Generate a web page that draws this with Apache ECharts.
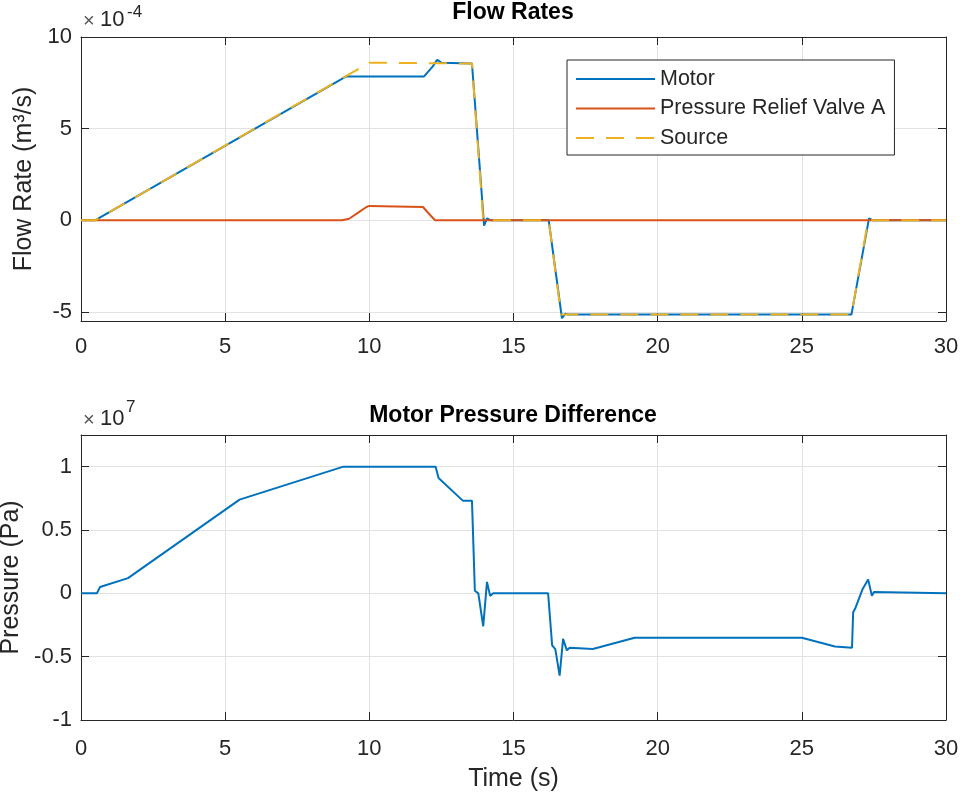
<!DOCTYPE html>
<html><head><meta charset="utf-8">
<script src="https://cdn.jsdelivr.net/npm/echarts@6/dist/echarts.min.js"></script>
<style>html,body{margin:0;padding:0;background:#fff}#c{width:964px;height:798px}</style>
</head><body><div id="c"></div>
<script>
// ---- data ----
const xTicks = [0, 5, 10, 15, 20, 25, 30];
const flowTicks = [-5, 0, 5, 10];            // x 1e-4 m^3/s
const pressureTicks = [-1, -0.5, 0, 0.5, 1]; // x 1e7 Pa
const seriesNames = ['Motor', 'Pressure Relief Valve A', 'Source'];

const motorTime = [0, 0.5, 9.2, 11.9, 12.2, 12.35, 12.5, 13.56, 13.98, 14.08, 14.2, 16.22, 16.68, 16.8, 16.9, 26.72, 27.33, 27.45, 30];
const motorFlow = [0, 0, 7.85, 7.85, 8.4, 8.75, 8.6, 8.55, -0.3, 0.1, 0, 0, -5.35, -5.1, -5.15, -5.15, 0.1, 0, 0];

const reliefTime = [0, 9.05, 9.3, 9.6, 9.9, 10.0, 11.86, 12.1, 12.28, 30];
const reliefFlow = [0, 0, 0.08, 0.4, 0.72, 0.78, 0.72, 0.3, 0, 0];

const sourceTime = [0, 0.5, 10.0, 13.56, 13.95, 16.22, 16.65, 26.72, 27.3, 30];
const sourceFlow = [0, 0, 8.6, 8.55, 0, 0, -5.15, -5.15, 0, 0];

const pressureTime = [0, 0.55, 0.66, 1.63, 5.5, 9.1, 12.3, 12.4, 13.25, 13.56, 13.66, 13.78, 13.95, 14.08, 14.19, 14.3, 16.2, 16.34, 16.45, 16.6, 16.72, 16.85, 16.95, 17.75, 19.2, 25.0, 26.15, 26.74, 26.78, 26.85, 27.1, 27.3, 27.43, 27.5, 30];
const pressureDiff = [0, 0, 0.05, 0.12, 0.74, 1.0, 1.0, 0.91, 0.73, 0.73, 0.02, 0, -0.26, 0.09, -0.02, 0, 0, -0.41, -0.44, -0.65, -0.36, -0.45, -0.43, -0.44, -0.35, -0.35, -0.42, -0.43, -0.15, -0.12, 0.03, 0.11, -0.02, 0.01, 0];

// ---- chart ----
const pairs = (t, v) => t.map((x, i) => [x, v[i]]);
const FONT = '"Liberation Sans", Arial, Helvetica, sans-serif';
const DARK = '#262626';
const GRIDC = '#e2e2e2';

function xAx(grid, pos, labels, margin, name) {
  return {
    type: 'value', gridIndex: grid, min: 0, max: 30, interval: 5, position: pos,
    name: name || '', nameLocation: 'middle', nameGap: 47,
    nameTextStyle: { fontSize: 25, color: DARK, fontFamily: FONT },
    axisLine: { show: true, onZero: false, lineStyle: { color: DARK, width: 1 } },
    axisTick: { show: true, inside: true, length: 8, lineStyle: { color: DARK } },
    axisLabel: { show: labels, fontSize: 22, color: DARK, fontFamily: FONT, margin: margin || 12 },
    splitLine: { show: pos === 'bottom', lineStyle: { color: GRIDC, width: 1 } }
  };
}
function yAx(grid, pos, labels, min, max, ticks, extra, name, gap) {
  return Object.assign({
    type: 'value', gridIndex: grid, min: min, max: max, position: pos,
    name: name || '', nameLocation: 'middle', nameGap: gap || 40, nameRotate: 90,
    nameTextStyle: { fontSize: 25, color: DARK, fontFamily: FONT },
    axisLine: { show: true, onZero: false, lineStyle: { color: DARK, width: 1 } },
    axisTick: { show: true, inside: true, length: 8, customValues: ticks, lineStyle: { color: DARK } },
    axisLabel: { show: labels, customValues: ticks, fontSize: 22, color: DARK, fontFamily: FONT, margin: 9 },
    splitLine: { show: pos === 'left', lineStyle: { color: GRIDC, width: 1 } }
  }, extra);
}

const chart = echarts.init(document.getElementById('c'), null, { renderer: 'canvas' });
chart.setOption({
  animation: false,
  backgroundColor: '#fff',
  grid: [
    { left: 81, top: 37, width: 865, height: 284, containLabel: false, outerBoundsMode: 'none' },
    { left: 81, top: 435, width: 865, height: 285, containLabel: false, outerBoundsMode: 'none' }
  ],
  xAxis: [
    xAx(0, 'bottom', true, 15),
    xAx(0, 'top', false),
    xAx(1, 'bottom', true, 18, 'Time (s)'),
    xAx(1, 'top', false)
  ],
  yAxis: [
    yAx(0, 'left', true, -5.5, 10, flowTicks, { splitNumber: 3 }, 'Flow Rate (m³/s)', 44),
    yAx(0, 'right', false, -5.5, 10, flowTicks, { splitNumber: 3 }),
    yAx(1, 'left', true, -1, 1.25, pressureTicks, { interval: 0.5 }, 'Pressure (Pa)', 56),
    yAx(1, 'right', false, -1, 1.25, pressureTicks, { interval: 0.5 })
  ],
  legend: {
    data: seriesNames, orient: 'vertical', left: 567, top: 60,
    itemWidth: 79, itemHeight: 14, itemGap: 7.5,
    padding: [8, 9, 6, 8],
    borderColor: DARK, borderWidth: 1, backgroundColor: '#fff',
    itemStyle: { opacity: 0 },
    textStyle: { fontSize: 21.5, color: DARK, fontFamily: FONT },
    selectedMode: false
  },
  graphic: [
    { type: 'text', x: 513, y: 1, style: { text: 'Flow Rates', fontSize: 23, fontWeight: 'bold', fontFamily: FONT, fill: '#000', align: 'center', verticalAlign: 'top' } },
    { type: 'text', x: 513, y: 404, style: { text: 'Motor Pressure Difference', fontSize: 23, fontWeight: 'bold', fontFamily: FONT, fill: '#000', align: 'center', verticalAlign: 'top' } },
    { type: 'text', x: 83, y: 11, style: { text: '×', fontSize: 20, fontFamily: FONT, fill: '#555' } },
    { type: 'text', x: 100, y: 9, style: { text: '10', fontSize: 22, fontFamily: FONT, fill: DARK } },
    { type: 'text', x: 127, y: 4, style: { text: '-4', fontSize: 17, fontFamily: FONT, fill: DARK } },
    { type: 'text', x: 83, y: 410, style: { text: '×', fontSize: 20, fontFamily: FONT, fill: '#555' } },
    { type: 'text', x: 100, y: 408, style: { text: '10', fontSize: 22, fontFamily: FONT, fill: DARK } },
    { type: 'text', x: 126, y: 399, style: { text: '7', fontSize: 17, fontFamily: FONT, fill: DARK } }
  ],
  series: [
    { name: seriesNames[0], type: 'line', xAxisIndex: 0, yAxisIndex: 0, symbol: 'none', data: pairs(motorTime, motorFlow),
      lineStyle: { color: '#0072BD', width: 2 }, itemStyle: { color: '#0072BD' }, z: 2 },
    { name: seriesNames[1], type: 'line', xAxisIndex: 0, yAxisIndex: 0, symbol: 'none', data: pairs(reliefTime, reliefFlow),
      lineStyle: { color: '#D95319', width: 2 }, itemStyle: { color: '#D95319' }, z: 3 },
    { name: seriesNames[2], type: 'line', xAxisIndex: 0, yAxisIndex: 0, symbol: 'none', data: pairs(sourceTime, sourceFlow),
      lineStyle: { color: '#EDB120', width: 2, type: [18, 12] }, itemStyle: { color: '#EDB120' }, z: 4 },
    { name: 'Motor Pressure', type: 'line', xAxisIndex: 2, yAxisIndex: 2, symbol: 'none', data: pairs(pressureTime, pressureDiff),
      lineStyle: { color: '#0072BD', width: 2 }, itemStyle: { color: '#0072BD' }, z: 2 }
  ]
});
</script></body></html>
